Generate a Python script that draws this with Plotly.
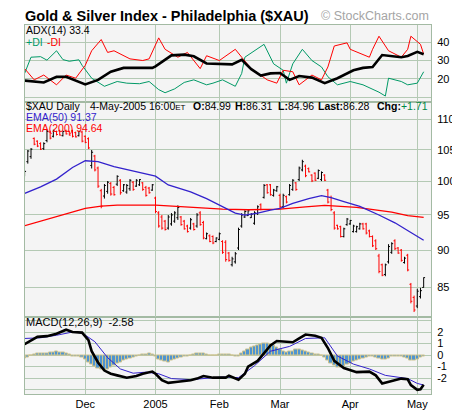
import math

import pandas as pd
import plotly.graph_objects as go

# trading days on the chart, Nov 3 2004 .. May 4 2005
HOLIDAYS = ["2004-11-25", "2004-12-24", "2005-01-17", "2005-02-21", "2005-03-25"]
dates = [
    d.strftime("%Y-%m-%d")
    for d in pd.bdate_range("2004-11-03", "2005-05-04")
    if d.strftime("%Y-%m-%d") not in HOLIDAYS
]

month_ticks = ["2004-12-01", "2005-01-03", "2005-02-01", "2005-03-01", "2005-04-01", "2005-05-02"]
month_labels = ["Dec", "2005", "Feb", "Mar", "Apr", "May"]

# $XAU daily bars
opens = [
    100.97, 103.1, 103.9, 106.85, 106.4, 106.0, 105.2, 106.5, 107.9, 107.2,
    108.0, 108.1, 107.3, 108.1, 108.0, 108.1, 107.8, 107.3, 107.9, 107.2,
    106.8, 102.5, 104.0, 102.1, 98.6, 97.8, 98.5, 99.7, 99.1, 99.6,
    100.2, 98.6, 98.4, 98.9, 99.9, 99.3, 99.5, 99.8, 99.1, 99.0,
    98.7, 97.5, 95.3, 94.7, 94.1, 93.1, 93.7, 94.1, 94.6, 94.7,
    94.1, 93.4, 93.1, 93.7, 93.4, 95.3, 93.9, 91.6, 92.0, 91.9,
    91.2, 91.5, 91.2, 91.1, 89.6, 88.0, 88.4, 90.3, 93.4, 94.7,
    94.9, 94.6, 93.8, 95.2, 96.5, 97.6, 99.5, 99.5, 97.9, 98.6,
    97.9, 96.2, 97.7, 98.0, 98.8, 99.8, 100.3, 101.8, 102.4, 102.0,
    101.0, 101.3, 100.5, 100.3, 101.0, 98.7, 97.6, 95.3, 93.5, 93.3,
    91.9, 93.6, 93.7, 92.6, 92.6, 93.0, 93.7, 93.7, 92.7, 91.9,
    91.3, 89.2, 88.0, 86.7, 88.4, 89.7, 91.3, 90.3, 90.0, 88.3,
    89.3, 85.4, 83.7, 82.6, 83.8, 84.99,
]
highs = [
    101.72, 104.96, 105.27, 107.01, 106.53, 106.21, 106.21, 108.29, 108.13, 108.29,
    108.13, 108.29, 108.13, 108.29, 108.13, 108.29, 107.97, 108.13, 108.13, 107.33,
    107.01, 104.96, 104.18, 102.33, 98.88, 99.62, 100.07, 99.92, 99.33, 100.97,
    100.37, 99.62, 99.62, 100.37, 100.07, 100.37, 100.37, 99.92, 99.33, 99.18,
    99.62, 97.71, 95.55, 94.99, 94.28, 94.99, 95.27, 95.55, 96.41, 94.85,
    94.28, 93.58, 94.56, 93.86, 95.27, 95.55, 94.14, 92.47, 92.2, 92.06,
    91.78, 92.47, 91.38, 91.38, 89.75, 89.09, 89.75, 93.16, 95.27, 95.69,
    95.69, 95.27, 95.55, 96.41, 96.7, 99.62, 99.62, 99.62, 98.88, 99.33,
    98.15, 98.15, 97.86, 99.62, 100.37, 99.92, 102.33, 103.4, 102.63, 102.18,
    101.12, 101.42, 101.87, 101.57, 101.12, 98.88, 97.86, 95.55, 93.58, 93.44,
    93.16, 94.56, 94.28, 93.58, 93.44, 93.86, 93.86, 93.86, 92.88, 92.06,
    91.51, 89.49, 88.16, 88.16, 90.83, 91.1, 91.51, 90.43, 90.16, 89.09,
    89.49, 85.58, 83.93, 84.82, 84.94, 86.31,
]
lows = [
    100.82, 102.79, 103.56, 105.74, 105.43, 104.96, 104.96, 106.21, 106.69, 107.01,
    107.33, 107.33, 107.17, 107.49, 107.33, 107.01, 107.01, 107.17, 106.21, 106.06,
    105.11, 102.03, 101.57, 99.03, 95.98, 97.42, 98.15, 97.86, 97.86, 99.33,
    98.0, 98.44, 98.15, 98.59, 98.59, 99.18, 99.33, 98.59, 97.71, 98.15,
    98.59, 95.27, 93.16, 92.88, 92.75, 92.88, 93.44, 93.86, 94.28, 93.44,
    92.88, 92.47, 92.88, 92.75, 93.16, 93.44, 91.51, 91.51, 91.1, 90.83,
    91.1, 91.38, 89.49, 88.42, 88.42, 87.77, 88.16, 90.02, 93.16, 94.56,
    94.85, 94.56, 93.58, 94.99, 95.69, 97.42, 98.15, 97.86, 97.71, 98.44,
    95.98, 95.98, 96.7, 97.86, 98.59, 98.59, 100.07, 101.57, 100.67, 101.42,
    99.92, 100.07, 100.37, 100.07, 100.07, 96.7, 95.55, 92.88, 92.88, 91.78,
    91.78, 93.44, 93.58, 92.47, 92.47, 92.88, 92.88, 92.2, 91.78, 90.43,
    90.02, 86.86, 86.47, 86.47, 88.16, 89.49, 90.02, 89.49, 88.42, 88.16,
    87.12, 82.94, 81.84, 82.33, 83.56, 84.96,
]
closes = [
    101.57, 104.8, 105.1, 105.9, 105.6, 105.1, 106.0, 108.0, 106.9, 108.1,
    107.5, 107.4, 108.0, 107.6, 107.4, 107.2, 107.1, 108.0, 106.4, 106.2,
    105.3, 104.6, 101.8, 99.3, 96.3, 99.4, 99.9, 98.1, 98.0, 100.8,
    98.3, 99.5, 99.4, 100.2, 98.8, 100.2, 100.3, 98.8, 97.9, 98.3,
    99.5, 95.5, 93.4, 93.1, 92.9, 94.7, 95.0, 95.3, 96.1, 93.6,
    93.0, 92.6, 94.3, 92.9, 95.0, 93.6, 91.7, 92.3, 91.2, 91.0,
    91.7, 92.3, 89.7, 88.7, 88.6, 88.8, 89.5, 92.9, 95.0, 95.5,
    95.6, 95.1, 95.3, 96.2, 95.8, 99.4, 98.3, 98.0, 98.7, 99.2,
    96.2, 97.9, 96.9, 99.4, 100.2, 98.8, 102.1, 103.1, 100.9, 101.5,
    100.1, 100.2, 101.7, 101.4, 100.2, 96.9, 95.8, 93.1, 93.0, 91.9,
    93.0, 94.4, 94.2, 93.4, 93.3, 93.7, 93.0, 92.4, 91.9, 90.6,
    90.2, 87.1, 86.6, 88.0, 90.5, 90.9, 90.2, 89.6, 88.6, 88.9,
    87.3, 83.2, 82.1, 84.5, 84.57, 86.28,
]

# moving averages (bar index, value)
ema50_idx = [0, 5, 10, 15, 19, 23, 28, 33, 41, 45, 52, 57, 62, 66, 69, 73, 77, 80, 84, 89, 93, 96, 100, 105, 111, 116, 121, 125]
ema50_vals = [98.2, 99.18, 100.37, 102.18, 103.25, 103.1, 102.33, 101.72, 100.82, 99.48, 98.44, 97.42, 96.27, 95.27,
              94.99, 95.27, 95.69, 95.98, 96.7, 97.42, 97.86, 97.56, 96.98, 96.27, 94.99, 93.86, 92.47, 91.37]
ema200_idx = [0, 5, 10, 15, 19, 24, 29, 41, 48, 55, 62, 70, 80, 88, 94, 104, 115, 120, 125]
ema200_vals = [93.44, 94.1, 94.7, 95.35, 95.98, 96.3, 96.45, 96.45, 96.27, 96.1, 95.84, 95.76, 95.84, 96.2, 96.41,
               96.12, 95.41, 94.9, 94.64]

# ADX(14) with +DI / -DI
adx_idx = [0, 6, 10, 13, 19, 23, 27, 31, 40, 41, 46, 50, 53, 57, 65, 68, 71, 74, 77, 80, 83, 86, 90, 94, 98,
           103, 106, 109, 112, 118, 120, 123, 125]
adx_vals = [19.1, 18.1, 21.2, 21.2, 17.0, 19.5, 23.9, 26.0, 26.0, 26.8, 32.8, 33.2, 32.3, 28.4, 27.9, 30.4, 25.3,
            21.8, 23.0, 23.2, 19.5, 21.6, 20.7, 17.7, 20.4, 24.7, 26.0, 26.5, 33.0, 31.8, 32.5, 34.7, 33.4]
pdi_idx = [0, 2, 5, 7, 10, 12, 14, 17, 18, 21, 25, 29, 32, 36, 39, 42, 44, 47, 50, 53, 57, 59, 62, 66, 68, 69,
           75, 78, 81, 82, 84, 87, 90, 93, 95, 98, 102, 106, 111, 113, 114, 118, 120, 123, 125]
pdi_vals = [23.0, 31.8, 32.1, 30.2, 35.3, 30.5, 29.6, 30.4, 27.4, 20.4, 16.0, 18.6, 17.7, 17.4, 18.6, 14.2, 12.5,
            14.6, 18.1, 19.5, 16.8, 17.7, 19.5, 16.0, 23.0, 31.8, 38.8, 28.2, 24.7, 17.7, 28.2, 36.1, 30.0, 26.5,
            21.2, 16.8, 18.6, 16.8, 12.8, 10.7, 20.4, 18.6, 16.8, 17.7, 23.9]
mdi_idx = [0, 3, 6, 10, 13, 16, 19, 21, 24, 26, 28, 33, 37, 39, 42, 44, 48, 51, 55, 57, 61, 66, 68, 71, 76, 79,
           81, 84, 86, 90, 93, 95, 97, 101, 102, 106, 108, 109, 111, 114, 118, 120, 121, 124, 125]
mdi_vals = [25.6, 19.5, 22.1, 16.8, 22.1, 20.4, 27.4, 35.3, 41.4, 34.4, 35.3, 30.9, 30.0, 30.9, 42.3, 36.1, 31.8,
            34.4, 25.6, 32.6, 30.0, 36.1, 31.8, 25.6, 19.5, 17.7, 24.7, 23.9, 16.8, 22.1, 19.5, 26.5, 37.9, 39.6,
            36.1, 33.5, 31.8, 36.1, 43.2, 35.3, 31.8, 36.1, 43.2, 38.8, 33.5]

# MACD(12,26,9)
macd_idx = [0, 4, 7, 10, 13, 15, 18, 20, 21, 23, 25, 27, 29, 32, 35, 37, 40, 41, 43, 45, 48, 52, 54, 56, 59, 63,
            64, 67, 69, 70, 73, 75, 77, 79, 81, 84, 86, 88, 91, 93, 95, 97, 100, 102, 104, 108, 110, 112, 115,
            118, 120, 121, 123, 124, 125]
macd_vals = [0.95, 1.59, 1.65, 1.87, 2.21, 2.01, 1.96, 1.31, 0.34, -0.64, -1.34, -1.62, -1.76, -1.96, -1.82,
             -1.62, -1.43, -1.62, -2.18, -2.41, -2.32, -2.18, -2.04, -1.82, -1.96, -1.96, -1.79, -2.13, -1.62,
             -1.01, -0.5, 0.2, 0.84, 1.23, 1.17, 1.12, 1.45, 1.79, 1.68, 1.51, 0.62, -0.5, -1.12, -1.29, -1.48,
             -1.43, -1.76, -2.46, -2.24, -2.04, -2.1, -2.6, -3.02, -2.97, -2.58]
signal_idx = [0, 5, 10, 15, 18, 22, 26, 30, 34, 38, 42, 46, 52, 57, 62, 67, 72, 77, 83, 88, 94, 98, 103, 108,
              113, 120, 123, 125]
signal_vals = [1.45, 1.51, 1.73, 2.01, 1.93, 1.17, -0.22, -1.2, -1.57, -1.48, -1.62, -2.04, -2.13, -1.99, -1.9,
               -1.96, -0.92, 0.34, 0.76, 1.45, 1.51, -0.08, -0.78, -1.2, -1.76, -2.04, -2.46, -2.6]
macd_hist = [
    -0.3, -0.2, 0.0, 0.05, 0.1, 0.1, 0.12, 0.15, 0.2, 0.25,
    0.3, 0.25, 0.2, 0.15, 0.05, -0.1, -0.12, -0.1, -0.2, -0.4,
    -0.6, -0.8, -1.0, -1.15, -1.25, -1.3, -1.25, -1.1, -0.9, -0.75,
    -0.6, -0.5, -0.4, -0.3, -0.2, -0.1, 0.0, 0.05, 0.08, 0.1,
    0.05, -0.1, -0.35, -0.5, -0.55, -0.6, -0.5, -0.4, -0.3, -0.2,
    -0.12, -0.1, -0.05, 0.05, 0.12, 0.15, 0.12, 0.05, -0.02, -0.03,
    -0.02, 0.02, 0.04, 0.05, 0.03, -0.05, -0.15, -0.08, 0.1, 0.3,
    0.5, 0.65, 0.75, 0.85, 0.95, 1.05, 1.05, 0.95, 0.8, 0.65,
    0.45, 0.3, 0.25, 0.3, 0.35, 0.45, 0.45, 0.4, 0.3, 0.2,
    0.15, 0.08, 0.03, 0.0, -0.2, -0.45, -0.7, -0.9, -1.05, -1.1,
    -1.0, -0.85, -0.7, -0.55, -0.45, -0.35, -0.25, -0.2, -0.15, -0.15,
    -0.2, -0.3, -0.4, -0.35, -0.25, -0.15, -0.1, -0.1, -0.15, -0.2,
    -0.3, -0.45, -0.45, -0.35, -0.2, -0.1,
]

FONT = "Liberation Sans, Arial, sans-serif"
GRID = "#b4c9b4"
BORDER = "#a3baa3"
BLUE = "#3322cc"
RED = "#ff0000"
GREEN = "#009966"


def pick(idx):
    return [dates[i] for i in idx]


def at(x, y):
    # pixel position on the 460x414 page -> paper coords
    return dict(xref="paper", yref="paper", x=(x - 17) / 411, y=(398 - y) / 381)


fig = go.Figure()

# ADX panel
fig.add_trace(go.Scatter(x=pick(pdi_idx), y=pdi_vals, mode="lines", line=dict(color=GREEN, width=1),
                         xaxis="x3", yaxis="y3"))
fig.add_trace(go.Scatter(x=pick(mdi_idx), y=mdi_vals, mode="lines", line=dict(color=RED, width=1),
                         xaxis="x3", yaxis="y3"))
fig.add_trace(go.Scatter(x=pick(adx_idx), y=adx_vals, mode="lines", line=dict(color="black", width=2.6),
                         xaxis="x3", yaxis="y3"))

# price panel
fig.add_trace(go.Scatter(x=pick(ema200_idx), y=ema200_vals, mode="lines", line=dict(color=RED, width=1.3),
                         xaxis="x2", yaxis="y2"))
fig.add_trace(go.Scatter(x=pick(ema50_idx), y=ema50_vals, mode="lines", line=dict(color=BLUE, width=1.3),
                         xaxis="x2", yaxis="y2"))
fig.add_trace(go.Ohlc(x=dates, open=opens, high=highs, low=lows, close=closes,
                      increasing=dict(line=dict(color="black", width=1)),
                      decreasing=dict(line=dict(color=RED, width=1)),
                      tickwidth=0.45, xaxis="x2", yaxis="y2"))

# MACD panel
fig.add_trace(go.Bar(x=dates, y=macd_hist, marker=dict(color="#4f94d0", line=dict(color="#cbc28e", width=1)),
                     xaxis="x", yaxis="y"))
fig.add_trace(go.Scatter(x=pick(signal_idx), y=signal_vals, mode="lines", line=dict(color=BLUE, width=1),
                         xaxis="x", yaxis="y"))
fig.add_trace(go.Scatter(x=pick(macd_idx), y=macd_vals, mode="lines", line=dict(color="black", width=2.6),
                         xaxis="x", yaxis="y"))

frame = dict(showline=True, linecolor=BORDER, linewidth=1, mirror=True, gridcolor=GRID, gridwidth=1,
             zeroline=False, tickfont=dict(family=FONT, size=11, color="black"))
xbase = dict(type="category", categoryorder="array", categoryarray=dates, range=[0.12, 127.3],
             tickvals=month_ticks, ticktext=month_labels, showgrid=True, ticks="",
             rangeslider=dict(visible=False), fixedrange=True, **frame)
ybase = dict(side="right", ticks="", ticklabelstandoff=3, fixedrange=True, **frame)

fig.update_layout(
    width=460, height=414,
    margin=dict(l=17, r=32, t=17, b=16),
    paper_bgcolor="white", plot_bgcolor="#f4f4f4",
    showlegend=False, bargap=0,
    font=dict(family=FONT, size=11, color="black"),
    xaxis=dict(anchor="y", showticklabels=True, **xbase),
    xaxis2=dict(anchor="y2", matches="x", showticklabels=False, **xbase),
    xaxis3=dict(anchor="y3", matches="x", showticklabels=False, **xbase),
    yaxis=dict(domain=[0, 0.21], range=[-3.38, 3.36], tickvals=[-3, -2, -1, 0, 1, 2, 3],
               ticktext=["", "-2", "-1", "0", "1", "2", ""], **ybase),
    yaxis2=dict(domain=[0.21, 0.79], type="log", range=[math.log10(81.28), math.log10(112.91)],
                tickvals=[85, 90, 95, 100, 105, 110], **ybase),
    yaxis3=dict(domain=[0.79, 1], range=[7.2, 49.3], tickvals=[10, 20, 30, 40],
                ticktext=["", "20", "30", "40"], **ybase),
    yaxis4=dict(overlaying="y2", anchor="x2", side="left", type="log",
                range=[math.log10(81.28), math.log10(112.91)], tickvals=list(range(82, 113)),
                ticks="inside", ticklen=3, tickcolor="#8fa58f", showticklabels=False, showgrid=False,
                showline=False, zeroline=False, fixedrange=True),
)

notes = [
    (at(16, 8), "<b>Gold & Silver Index - Philadelphia ($XAU)</b>", "left", 14.5, "black"),
    (at(427, 8), "© StockCharts.com", "right", 12.5, "#a5a5a5"),
    (at(17, 22.5), "ADX(14) 33.4", "left", 10.5, "black"),
    (at(17, 34.5), "+DI", "left", 10.5, GREEN),
    (at(38, 34.5), "-DI", "left", 10.5, RED),
    (at(17, 101), "$XAU Daily", "left", 10.5, "black"),
    (at(82, 101), "4-May-2005 16:00<span style='font-size:8px'>ET</span>", "left", 10.5, "black"),
    (at(186, 101), "<b>O:</b>84.99", "left", 10.5, "black"),
    (at(229, 101), "<b>H:</b>86.31", "left", 10.5, "black"),
    (at(272, 101), "<b>L:</b>84.96", "left", 10.5, "black"),
    (at(313, 101), "<b>Last:</b>86.28", "left", 10.5, "black"),
    (at(426, 101), "<b>Chg:</b><span style='color:#008844'>+1.71</span>", "right", 10.5, "black"),
    (at(17, 112), "EMA(50) 91.37", "left", 10.5, BLUE),
    (at(17, 123), "EMA(200) 94.64", "left", 10.5, RED),
    (at(17, 324), "MACD(12,26,9)  -2.58", "left", 11, "black"),
]
for pos, text, anchor, size, color in notes:
    fig.add_annotation(**pos, text=text, showarrow=False, xanchor=anchor, yanchor="middle",
                       font=dict(family=FONT, size=size, color=color), borderpad=0)

fig.write_html("out.html")
